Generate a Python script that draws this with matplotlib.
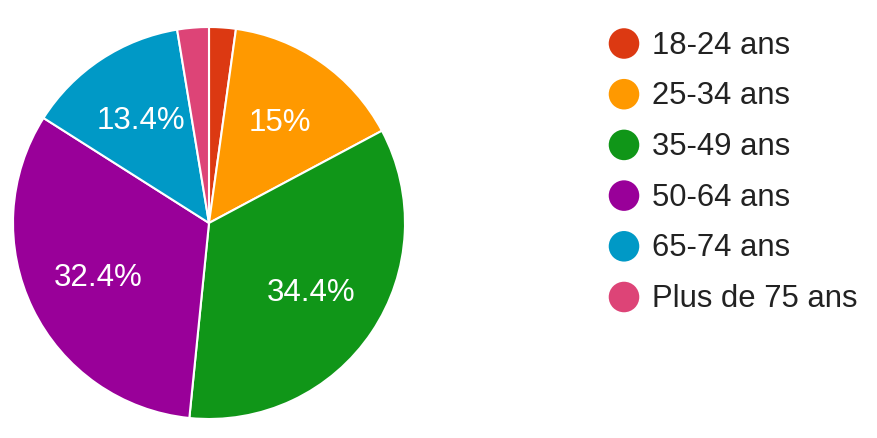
import matplotlib.pyplot as plt

labels = ['18-24 ans', '25-34 ans', '35-49 ans', '50-64 ans', '65-74 ans', 'Plus de 75 ans']
values = [2.2, 15.0, 34.4, 32.4, 13.4, 2.6]
colors = ['#dc3912', '#ff9900', '#109618', '#990099', '#0099c6', '#dd4477']

plt.rcParams['font.family'] = ['Liberation Sans', 'DejaVu Sans']

W, H = 877, 439
fig = plt.figure(figsize=(W / 100, H / 100), dpi=100)

# pie: centre (209, 224) px, radius 196 px
cx, cy, r = 209, 224, 196
ax = fig.add_axes([(cx - r) / W, (H - cy - r) / H, 2 * r / W, 2 * r / H])


def fmt(p):
    return f'{p:.1f}%'.replace('.0%', '%') if p > 5 else ''


wedges, texts, autotexts = ax.pie(
    values, colors=colors, startangle=90, counterclock=False,
    autopct=fmt, pctdistance=0.63,
    wedgeprops=dict(edgecolor='white', linewidth=1.5),
    textprops=dict(color='white', fontsize=22.5))
ax.set_xlim(-1, 1)
ax.set_ylim(-1, 1)
ax.set_aspect('equal')

# legend
lax = fig.add_axes([0, 0, 1, 1])
lax.set_xlim(0, W)
lax.set_ylim(H, 0)
lax.axis('off')
for i, (lab, col) in enumerate(zip(labels, colors)):
    y = 44.5 + i * 50.7
    lax.scatter([624], [y], s=22 ** 2, color=col, edgecolors='none')
    lax.text(652, y + 1, lab, fontsize=22.3, color='#222222', va='center', ha='left')

fig.savefig('out.png', dpi=100)
